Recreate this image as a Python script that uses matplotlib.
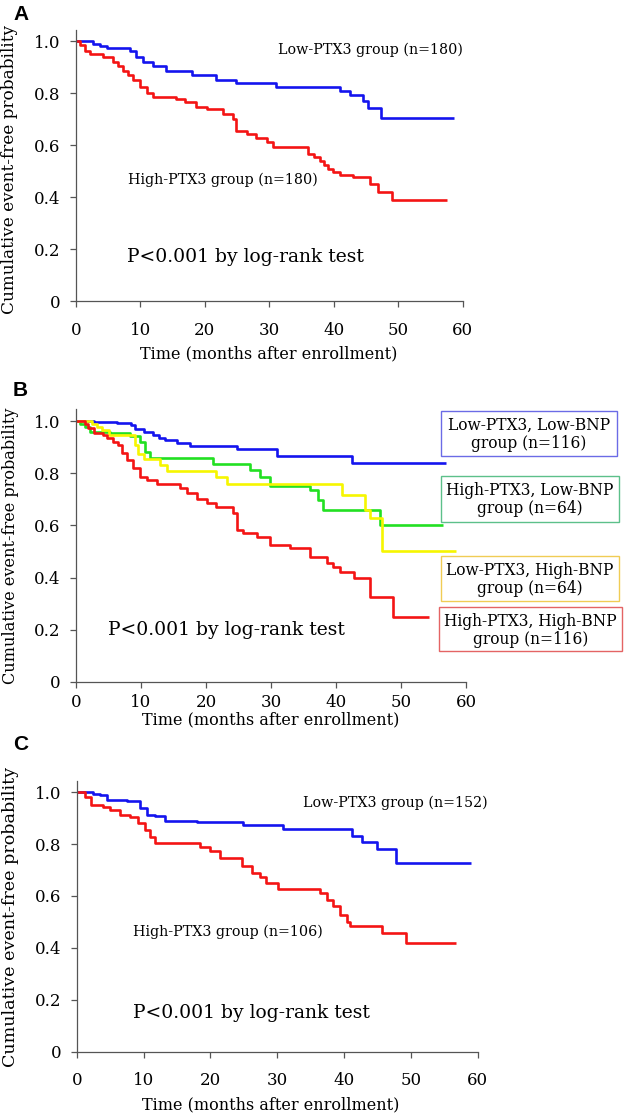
import matplotlib
matplotlib.use("Agg")
import matplotlib.pyplot as plt
from matplotlib.patches import Rectangle

# ---------------- data ----------------
# Panel A
a_low_t = [0, 2.7, 3.7, 4.8, 8.4, 9.4, 10.4, 12.0, 14.0, 18.0, 21.8, 24.9, 31.0, 40.9, 42.5, 44.5, 45.3, 47.4, 58.6]
a_low_v = [1.0, 0.99, 0.982, 0.976, 0.963, 0.94, 0.92, 0.907, 0.888, 0.869, 0.852, 0.839, 0.826, 0.81, 0.792, 0.772, 0.743, 0.705, 0.705]
a_high_t = [0, 0.7, 1.5, 2.2, 4.3, 5.8, 6.5, 7.3, 8.1, 8.9, 9.9, 11.0, 12.0, 15.6, 17.0, 18.7, 20.3, 22.8, 24.4, 24.9,
            26.5, 28.0, 29.6, 30.6, 36.0, 37.0, 37.8, 38.5, 39.1, 39.9, 40.9, 43.0, 45.6, 46.8, 49.1, 57.5]
a_high_v = [1.0, 0.985, 0.965, 0.952, 0.94, 0.92, 0.905, 0.888, 0.87, 0.85, 0.824, 0.80, 0.785, 0.779, 0.766, 0.749, 0.74, 0.72, 0.703, 0.656,
            0.644, 0.63, 0.611, 0.595, 0.566, 0.553, 0.54, 0.525, 0.509, 0.496, 0.487, 0.477, 0.451, 0.42, 0.39, 0.39]

# Panel B
b_ll_t = [0, 2.7, 6.3, 8.4, 9.1, 10.4, 11.8, 12.8, 13.7, 15.5, 17.5, 24.7, 30.9, 42.4, 56.9]
b_ll_v = [1.0, 0.997, 0.994, 0.985, 0.969, 0.96, 0.947, 0.937, 0.928, 0.915, 0.905, 0.892, 0.868, 0.84, 0.84]
b_hl_t = [0, 0.6, 1.4, 2.2, 5.2, 8.3, 9.8, 10.6, 11.4, 21.1, 26.8, 28.3, 29.8, 36.0, 37.3, 38.0, 46.8, 56.4]
b_hl_v = [1.0, 0.99, 0.979, 0.96, 0.953, 0.943, 0.921, 0.883, 0.857, 0.834, 0.813, 0.787, 0.751, 0.736, 0.697, 0.659, 0.60, 0.60]
b_lh_t = [0, 2.4, 3.2, 4.0, 5.0, 9.1, 9.6, 10.4, 12.9, 14.0, 21.6, 23.2, 40.9, 44.5, 45.3, 47.0, 58.4]
b_lh_v = [1.0, 0.99, 0.979, 0.966, 0.947, 0.909, 0.873, 0.854, 0.832, 0.81, 0.787, 0.76, 0.717, 0.66, 0.628, 0.503, 0.503]
b_hh_t = [0, 1.4, 1.9, 2.7, 4.2, 4.7, 5.7, 6.5, 7.0, 7.8, 8.8, 9.8, 10.9, 12.4, 16.0, 17.0, 18.6, 20.1, 21.6, 24.2, 24.7,
          25.7, 27.8, 29.8, 32.9, 36.0, 38.6, 39.5, 40.6, 42.7, 45.2, 48.8, 54.3]
b_hh_v = [1.0, 0.99, 0.973, 0.956, 0.947, 0.934, 0.921, 0.909, 0.877, 0.851, 0.819, 0.787, 0.774, 0.759, 0.742, 0.723, 0.70, 0.685, 0.672, 0.646, 0.582,
          0.57, 0.554, 0.525, 0.512, 0.48, 0.455, 0.44, 0.422, 0.397, 0.326, 0.247, 0.247]

# Panel C
c_low_t = [0, 2.5, 3.5, 4.5, 7.5, 9.5, 10.5, 11.7, 13.2, 18.0, 24.9, 30.9, 41.2, 42.7, 45.0, 47.8, 59.0]
c_low_v = [1.0, 0.995, 0.99, 0.971, 0.965, 0.939, 0.913, 0.907, 0.891, 0.887, 0.872, 0.857, 0.832, 0.81, 0.78, 0.727, 0.727]
c_high_t = [0, 1.2, 2.2, 4.0, 5.0, 6.5, 8.0, 9.2, 10.2, 11.0, 11.7, 18.5, 20.0, 21.5, 24.7, 26.2, 27.4, 28.4, 30.2,
            36.4, 37.4, 38.4, 39.4, 40.5, 40.9, 45.7, 49.3, 56.8]
c_high_v = [1.0, 0.98, 0.952, 0.945, 0.932, 0.913, 0.903, 0.881, 0.855, 0.829, 0.804, 0.788, 0.775, 0.746, 0.714, 0.688, 0.675, 0.649, 0.626,
            0.611, 0.585, 0.56, 0.527, 0.50, 0.484, 0.456, 0.418, 0.418]

x_ticks = [0, 10, 20, 30, 40, 50, 60]
y_ticks = [0, 0.2, 0.4, 0.6, 0.8, 1.0]
y_ticklabels = ["0", "0.2", "0.4", "0.6", "0.8", "1.0"]

xlabel = "Time (months after enrollment)"
ylabel = "Cumulative event-free probability"
ptext = "P<0.001 by log-rank test"

BLUE = "#1414ee"
RED = "#f41414"
GREEN = "#22e022"
YELLOW = "#f6f600"

W, H = 625, 1114
fig = plt.figure(figsize=(W / 100, H / 100), dpi=100)
SERIF = ["DejaVu Serif"]


def fx(x):
    return x / W


def fy(y):
    return 1 - y / H


def make_ax(x0, x60, y0, y1, xpad=11):
    # x0: pixel of t=0, x60: pixel of t=60, y0: pixel of value 0, y1: pixel of value 1.0
    top_val = 1.045
    ytop = y0 - (y0 - y1) * top_val
    ax = fig.add_axes([fx(x0), fy(y0), (x60 - x0) / W, (y0 - ytop) / H])
    ax.set_xlim(0, 60)
    ax.set_ylim(0, top_val)
    for s in ["top", "right"]:
        ax.spines[s].set_visible(False)
    for s in ["left", "bottom"]:
        ax.spines[s].set_color("#555555")
        ax.spines[s].set_linewidth(0.9)
    ax.set_xticks(x_ticks)
    ax.set_xticklabels([str(t) for t in x_ticks])
    ax.set_yticks(y_ticks)
    ax.set_yticklabels(y_ticklabels)
    ax.tick_params(axis="x", direction="out", length=4, width=0.9, color="#555555", pad=xpad,
                   labelsize=12)
    ax.tick_params(axis="y", direction="out", length=4, width=0.9, color="#555555", pad=7,
                   labelsize=12)
    for lab in ax.get_xticklabels() + ax.get_yticklabels():
        lab.set_fontfamily(SERIF)
    return ax


def curve(ax, t, v, color):
    ax.step(t, v, where="post", color=color, lw=1.9, solid_capstyle="butt", clip_on=False)


# ---------- Panel A ----------
axA = make_ax(75.7, 462.7, 301.0, 41.5)
curve(axA, a_low_t, a_low_v, BLUE)
curve(axA, a_high_t, a_high_v, RED)
fig.text(fx(278), fy(50), "Low-PTX3 group (n=180)", fontsize=10.3, family=SERIF, va="center", ha="left")
fig.text(fx(128), fy(180), "High-PTX3 group (n=180)", fontsize=10.3, family=SERIF, va="center", ha="left")
fig.text(fx(127), fy(257), ptext, fontsize=13.5, family=SERIF, va="center", ha="left")
fig.text(fx(13), fy(14), "A", fontsize=15, fontweight="bold", family=["Liberation Sans"], va="center", ha="left")
fig.text(fx(10), fy(170), ylabel, fontsize=12.2, family=SERIF, rotation=90, va="center", ha="center")
fig.text(fx(269), fy(354), xlabel, fontsize=11.5, family=SERIF, va="center", ha="center")

# ---------- Panel B ----------
axB = make_ax(76.0, 466.0, 681.7, 421.2, xpad=5)
curve(axB, b_ll_t, b_ll_v, BLUE)
curve(axB, b_hl_t, b_hl_v, GREEN)
curve(axB, b_lh_t, b_lh_v, YELLOW)
curve(axB, b_hh_t, b_hh_v, RED)
fig.text(fx(108), fy(630), ptext, fontsize=13.5, family=SERIF, va="center", ha="left")
fig.text(fx(13), fy(391), "B", fontsize=15, fontweight="bold", family=["Liberation Sans"], va="center", ha="left")
fig.text(fx(11), fy(546), ylabel, fontsize=11.6, family=SERIF, rotation=90, va="center", ha="center")
fig.text(fx(271), fy(720), xlabel, fontsize=11.5, family=SERIF, va="center", ha="center")

legend_boxes = [
    ("Low-PTX3, Low-BNP", "group (n=116)", "#6b6be6", 440.7, 617.3, 410.7, 456.0),
    ("High-PTX3, Low-BNP", "group (n=64)", "#5cc08a", 440.7, 619.3, 476.0, 521.7),
    ("Low-PTX3, High-BNP", "group (n=64)", "#f0cc55", 440.7, 619.3, 555.7, 600.7),
    ("High-PTX3, High-BNP", "group (n=116)", "#e46464", 439.0, 621.7, 606.7, 651.0),
]
for l1, l2, ec, x0, x1, y0, y1 in legend_boxes:
    fig.patches.append(Rectangle((fx(x0), fy(y1)), (x1 - x0) / W, (y1 - y0) / H,
                                 transform=fig.transFigure, facecolor="white", edgecolor=ec, lw=1.0))
    cx = (x0 + x1) / 2
    fig.text(fx(cx), fy(y0 + 14.5), l1, fontsize=11.2, family=SERIF, va="center", ha="center")
    fig.text(fx(cx), fy(y0 + 32.5), l2, fontsize=11.2, family=SERIF, va="center", ha="center")

# ---------- Panel C ----------
axC = make_ax(76.7, 477.5, 1051.5, 792.3)
curve(axC, c_low_t, c_low_v, BLUE)
curve(axC, c_high_t, c_high_v, RED)
fig.text(fx(303), fy(803), "Low-PTX3 group (n=152)", fontsize=10.3, family=SERIF, va="center", ha="left")
fig.text(fx(133), fy(932), "High-PTX3 group (n=106)", fontsize=10.3, family=SERIF, va="center", ha="left")
fig.text(fx(133), fy(1013), ptext, fontsize=13.5, family=SERIF, va="center", ha="left")
fig.text(fx(13), fy(745), "C", fontsize=15, fontweight="bold", family=["Liberation Sans"], va="center", ha="left")
fig.text(fx(11), fy(917), ylabel, fontsize=12.6, family=SERIF, rotation=90, va="center", ha="center")
fig.text(fx(271), fy(1105), xlabel, fontsize=11.5, family=SERIF, va="center", ha="center")

fig.savefig("out.png", dpi=100)
